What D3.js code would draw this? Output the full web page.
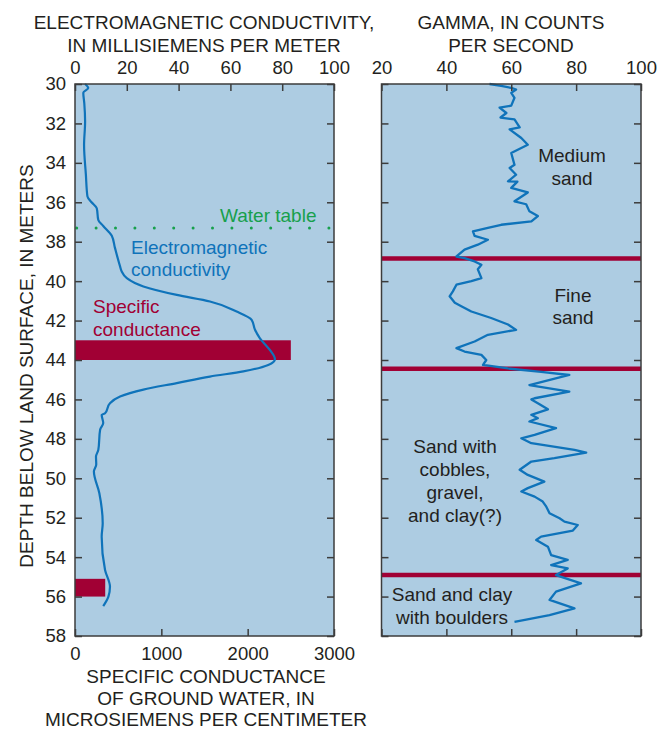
<!DOCTYPE html>
<html>
<head>
<meta charset="utf-8">
<script src="https://cdn.jsdelivr.net/npm/d3@7"></script>
<style>
  body { margin: 0; background: #fff; }
  svg text { font-family: "Liberation Sans", Arial, Helvetica, sans-serif; fill: #231f20; }
</style>
</head>
<body>
<svg id="chart" width="670" height="731"></svg>
<script>
// depth axis (meters below land surface)
const depthTicks = d3.range(30, 59, 2)
const emTicks = [0, 20, 40, 60, 80, 100]
const scTicks = [0, 1000, 2000, 3000]
const gammaTicks = [20, 40, 60, 80, 100]

// electromagnetic conductivity, mS/m
const emDepth = [30.0, 30.2, 30.45, 31.0, 31.9, 33.1, 34.6, 35.7, 36.0, 36.3, 36.9, 37.2, 37.7, 38.3, 39.25, 39.5, 39.85,
  40.27, 40.7, 41.03, 41.54, 41.96, 42.47, 42.9, 43.5, 43.96, 44.25, 44.58, 44.84, 45.17, 45.5, 45.85, 46.19, 46.7, 46.78,
  47.2, 47.54, 48.56, 48.9, 49.3, 49.66, 50.76, 52.28, 52.96, 54.65, 55.5, 56.0, 56.48]
const emValue = [3.9, 5.1, 3.2, 3.6, 3.9, 3.5, 4.2, 4.8, 6.4, 8.4, 9.0, 10.9, 14.2, 15.4, 17.4, 18.0, 20.0,
  26.4, 39.3, 52.1, 62.4, 68.2, 69.5, 71.4, 75.3, 77.2, 74.6, 65.0, 52.1, 39.3, 26.4, 17.4, 13.5, 11.6, 10.3,
  10.9, 9.7, 9.0, 8.1, 8.2, 7.3, 9.4, 10.7, 10.3, 11.6, 13.5, 12.9, 10.9]

// specific conductance of ground water, uS/cm (sampled intervals)
const scTop = [43.0, 55.1]
const scBottom = [44.0, 56.0]
const scValue = [2500, 350]

const waterTable = 37.3

// gamma log, counts per second
const gammaDepth = [30.0, 30.1, 30.2, 30.28, 30.45, 30.7, 31.1, 31.2, 31.47, 31.7, 31.8, 32.2, 32.3, 32.74, 33.08, 33.5,
  34.1, 34.26, 34.6, 34.94, 34.95, 35.27, 35.5, 35.95, 36.1, 36.46, 36.7, 36.97, 37.14, 37.3, 37.48, 37.7, 37.9, 38.15,
  38.4, 38.75, 38.83, 39.0, 39.17, 39.4, 39.85, 40.0, 40.18, 40.52, 40.77, 41.1, 41.27, 41.54, 41.87, 42.2, 42.47, 42.72,
  43.06, 43.4, 43.57, 43.74, 44.0, 44.25, 44.43, 44.6, 44.76, 45.27, 45.6, 45.94, 46.0, 46.19, 46.5, 46.78, 46.95, 47.12,
  47.46, 47.8, 47.97, 48.22, 48.56, 48.7, 48.98, 49.15, 49.57, 49.83, 50.17, 50.5, 50.67, 50.93, 51.18, 51.44, 51.77,
  52.03, 52.2, 52.37, 52.65, 52.96, 53.13, 53.47, 53.9, 54.14, 54.4, 54.57, 54.91, 55.0, 55.33, 55.75, 56.17, 56.6,
  56.94, 57.28]
const gammaValue = [53.3, 56.9, 60.0, 61.5, 60.0, 61.0, 60.0, 56.4, 58.5, 56.7, 61.0, 62.6, 59.5, 63.1, 65.1, 60.0,
  61.0, 59.5, 61.5, 59.0, 61.9, 60.0, 65.1, 61.0, 64.6, 65.6, 68.2, 66.2, 56.9, 52.8, 48.2, 48.7, 52.8, 49.7,
  45.6, 43.1, 45.6, 48.7, 50.8, 49.7, 50.8, 47.7, 43.1, 42.0, 41.0, 42.6, 44.6, 47.7, 53.8, 59.0, 61.5, 52.8,
  48.7, 43.1, 45.6, 50.8, 52.3, 51.3, 59.0, 69.2, 77.9, 65.6, 77.9, 67.2, 66.2, 68.2, 71.3, 66.2, 68.2, 65.6,
  73.8, 67.2, 63.1, 66.2, 79.5, 83.1, 73.3, 66.2, 62.6, 65.1, 70.2, 65.1, 63.1, 67.2, 69.7, 70.8, 71.8,
  74.9, 76.4, 80.5, 79.0, 69.2, 67.7, 71.3, 72.3, 77.4, 72.3, 77.4, 73.8, 75.4, 81.5, 73.8, 71.8, 79.5,
  71.8, 61.0]

// lithologic unit boundaries
const unitBoundaries = [38.85, 44.45, 54.9]
const unitLabels = [['Medium', 'sand'], ['Fine', 'sand'], ['Sand with', 'cobbles,', 'gravel,', 'and clay(?)'], ['Sand and clay', 'with boulders']]

const colors = { bg: '#adcce2', frame: '#3c3c3c', blue: '#0f73ba', red: '#a10034', green: '#17a04c' }

const svg = d3.select('#chart')
const yTop = 84, yBottom = 636
const left = { x0: 75, x1: 334 }
const right = { x0: 381.5, x1: 641 }

const y = d3.scaleLinear().domain([30, 58]).range([yTop, yBottom])
const xEm = d3.scaleLinear().domain([0, 100]).range([left.x0, left.x1])
const xSc = d3.scaleLinear().domain([0, 3000]).range([left.x0, left.x1])
const xGamma = d3.scaleLinear().domain([20, 100]).range([right.x0, right.x1])

// panel backgrounds
;[left, right].forEach(p => {
    svg.append('rect')
        .attr('x', p.x0).attr('y', yTop)
        .attr('width', p.x1 - p.x0).attr('height', yBottom - yTop)
        .attr('fill', colors.bg)
})

// ----- left panel -----
const leftG = svg.append('g').attr('class', 'left-panel')

leftG.selectAll('rect.sc')
    .data(scValue)
    .enter().append('rect')
    .attr('class', 'sc')
    .attr('x', xSc(0))
    .attr('y', (d, i) => y(scTop[i]))
    .attr('width', d => xSc(d) - xSc(0))
    .attr('height', (d, i) => y(scBottom[i]) - y(scTop[i]))
    .attr('fill', colors.red)

leftG.append('line')
    .attr('x1', left.x0 + 1.7).attr('x2', left.x1)
    .attr('y1', y(waterTable)).attr('y2', y(waterTable))
    .attr('stroke', colors.green)
    .attr('stroke-width', 3)
    .attr('stroke-linecap', 'round')
    .attr('stroke-dasharray', '0 19.4')

const emLine = d3.line()
    .x((d, i) => xEm(emValue[i]))
    .y(d => y(d))
    .curve(d3.curveMonotoneY)

leftG.append('path')
    .attr('d', emLine(emDepth))
    .attr('fill', 'none')
    .attr('stroke', colors.blue)
    .attr('stroke-width', 2.2)

// ----- right panel -----
const rightG = svg.append('g').attr('class', 'right-panel')

rightG.selectAll('line.unit')
    .data(unitBoundaries)
    .enter().append('line')
    .attr('class', 'unit')
    .attr('x1', right.x0).attr('x2', right.x1)
    .attr('y1', d => y(d)).attr('y2', d => y(d))
    .attr('stroke', colors.red)
    .attr('stroke-width', 4.5)

const gammaLine = d3.line()
    .x((d, i) => xGamma(gammaValue[i]))
    .y(d => y(d))

rightG.append('path')
    .attr('d', gammaLine(gammaDepth))
    .attr('fill', 'none')
    .attr('stroke', colors.blue)
    .attr('stroke-width', 2.3)
    .attr('stroke-linejoin', 'round')

// ----- axes (ticks point inward) -----
const fontTick = '18.5px'
function styleAxis (g) {
    g.select('.domain').remove()
    g.selectAll('line').attr('stroke', colors.frame).attr('stroke-width', 1.5)
    g.selectAll('text').style('font-size', fontTick).attr('fill', '#231f20')
}

svg.append('g').attr('transform', `translate(${left.x0},0)`)
    .call(d3.axisLeft(y).tickValues(depthTicks).tickSize(-7).tickSizeOuter(0).tickPadding(9))
    .call(styleAxis)
svg.append('g').attr('transform', `translate(${left.x1},0)`)
    .call(d3.axisRight(y).tickValues(depthTicks).tickSize(-7).tickSizeOuter(0).tickFormat(''))
    .call(styleAxis)
svg.append('g').attr('transform', `translate(0,${yTop})`)
    .call(d3.axisTop(xEm).tickValues(emTicks).tickSize(-7).tickSizeOuter(0).tickPadding(10))
    .call(styleAxis)
svg.append('g').attr('transform', `translate(0,${yBottom})`)
    .call(d3.axisBottom(xSc).tickValues(scTicks).tickFormat(d3.format('d')).tickSize(-7).tickSizeOuter(0).tickPadding(11))
    .call(styleAxis)

svg.append('g').attr('transform', `translate(${right.x0},0)`)
    .call(d3.axisRight(y).tickValues(depthTicks).tickSize(7).tickSizeOuter(0).tickFormat(''))
    .call(styleAxis)
svg.append('g').attr('transform', `translate(${right.x1},0)`)
    .call(d3.axisLeft(y).tickValues(depthTicks).tickSize(7).tickSizeOuter(0).tickFormat(''))
    .call(styleAxis)
svg.append('g').attr('transform', `translate(0,${yTop})`)
    .call(d3.axisTop(xGamma).tickValues(gammaTicks).tickSize(-7).tickSizeOuter(0).tickPadding(10))
    .call(styleAxis)
svg.append('g').attr('transform', `translate(0,${yBottom})`)
    .call(d3.axisBottom(xGamma).tickValues(gammaTicks).tickSize(-7).tickSizeOuter(0).tickFormat(''))
    .call(styleAxis)

// frames
;[left, right].forEach(p => {
    svg.append('rect')
        .attr('x', p.x0).attr('y', yTop)
        .attr('width', p.x1 - p.x0).attr('height', yBottom - yTop)
        .attr('fill', 'none')
        .attr('stroke', colors.frame)
        .attr('stroke-width', 1.5)
})

// ----- titles -----
const fontTitle = '19px'
function textLines (lines, x, y0, step, opts = {}) {
    lines.forEach((t, i) => {
        svg.append('text')
            .attr('x', x).attr('y', y0 + i * step)
            .attr('text-anchor', opts.anchor || 'middle')
            .style('font-size', opts.size || fontTitle)
            .style('fill', opts.color || '#231f20')
            .text(t)
    })
}

textLines(['ELECTROMAGNETIC CONDUCTIVITY,', 'IN MILLISIEMENS PER METER'], 204, 29, 23)
textLines(['GAMMA, IN COUNTS', 'PER SECOND'], 511, 29, 23)
textLines(['SPECIFIC CONDUCTANCE', 'OF GROUND WATER, IN', 'MICROSIEMENS PER CENTIMETER'], 206, 683, 21.5)

svg.append('text')
    .attr('transform', 'translate(33,366) rotate(-90)')
    .attr('text-anchor', 'middle')
    .style('font-size', fontTitle)
    .text('DEPTH BELOW LAND SURFACE, IN METERS')

// ----- annotations -----
textLines(['Water table'], 220, 222, 0, { anchor: 'start', color: colors.green })
textLines(['Electromagnetic', 'conductivity'], 131, 254, 22, { anchor: 'start', color: colors.blue })
textLines(['Specific', 'conductance'], 93, 313, 22.5, { anchor: 'start', color: colors.red })

textLines(unitLabels[0], 572, 162, 23)
textLines(unitLabels[1], 573, 302, 22)
textLines(unitLabels[2], 455, 453, 23)
textLines(unitLabels[3], 452, 601, 23)
</script>
</body>
</html>
